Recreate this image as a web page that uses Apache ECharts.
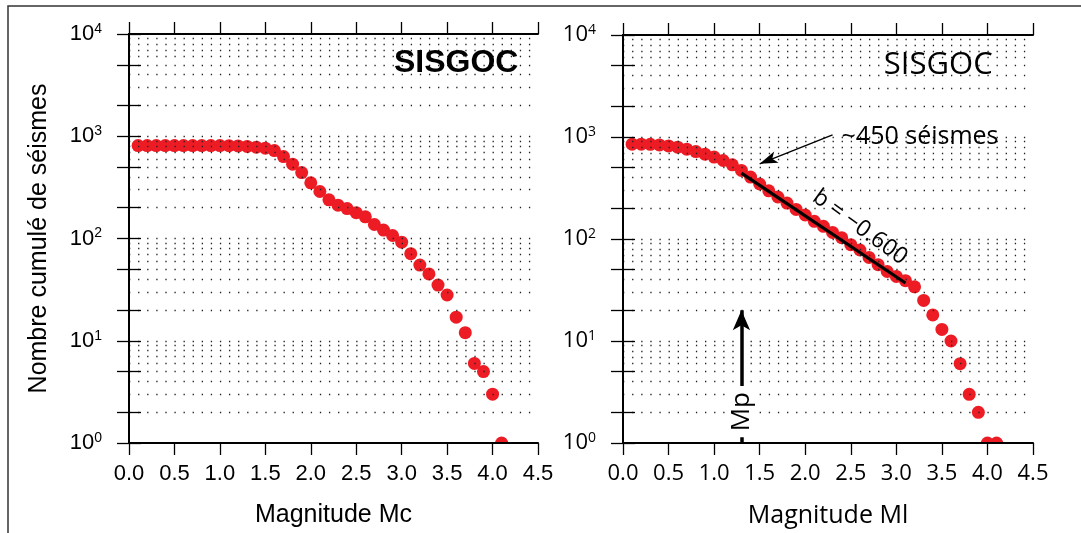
<!DOCTYPE html>
<html><head><meta charset="utf-8">
<script src="https://cdn.jsdelivr.net/npm/echarts@6/dist/echarts.min.js"></script>
<style>html,body{margin:0;padding:0;background:#fff}#c{width:1081px;height:533px}</style>
</head><body><div id="c"></div>
<script>
// ---------- data ----------
const magnitudes = [0.1,0.2,0.3,0.4,0.5,0.6,0.7,0.8,0.9,1.0,1.1,1.2,1.3,1.4,1.5,1.6,1.7,1.8,1.9,2.0,
  2.1,2.2,2.3,2.4,2.5,2.6,2.7,2.8,2.9,3.0,3.1,3.2,3.3,3.4,3.5,3.6,3.7,3.8,3.9,4.0,4.1];
const cumulMc = [810,810,810,810,810,810,810,810,810,810,808,805,795,782,765,724,633,533,441,350,
  288,239,212,196,179,163,137,121,107,92,71,55,45,35,28,17,12,6,5,3,1];
const cumulMl = [850,850,848,837,818,795,760,720,679,635,588,534,470,405,346,297,258,225,195,172,
  149,133,116,103,88,78,66,56,48,43,39,34,25,18,13,10,6,3,2,1,1];
const xTickStep = 0.5;
const xMin = 0, xMax = 4.5;
const yTickValues = [1,2,5,10,20,50,100,200,500,1000,2000,5000,10000];
const yLabelValues = [1,10,100,1000,10000];
const gridRowValues = [2,3,4,5,6,7,8,9,10,20,30,40,50,60,70,80,90,100,200,300,400,500,600,700,800,900,
  1000,2000,3000,4000,5000,6000,7000,8000,9000];
const fitLinePoints = [[1.3,443],[3.1,37]];
const fitLabel = 'b = \u22120.600';
const mpMagnitude = 1.3;
const mpArrowEnd = 20;
const countArrowPoints = [[2.3,1050],[1.5,546]];
const countLabel = '~450 séismes';
const panelLabel = 'SISGOC';
const xTitles = ['Magnitude Mc','Magnitude Ml'];
const yTitle = 'Nombre cumulé de séismes';

// ---------- styles ----------
const FL = '"Liberation Sans", Arial, sans-serif';
const FR = '"Open Sans", sans-serif';
const RED = '#ed1c24';
const grids = [
  {left:129, top:34, width:409, height:409},
  {left:623, top:35, width:410, height:409}
];

function xAxisCfg(gi, pos, font, name) {
  return {
    type:'value', gridIndex:gi, position:pos, min:xMin, max:xMax, interval:xTickStep,
    axisLine:{show:true, onZero:false, lineStyle:{color:'#000', width:2}},
    axisTick:{show:true, inside:false, length:12, lineStyle:{color:'#000', width:1.3}},
    splitLine:{show:false},
    axisLabel:{show: pos==='bottom', margin:20, color:'#000', fontSize:22, fontFamily:font,
      formatter: v => v.toFixed(1)},
    name: name || '', nameLocation:'middle', nameGap:60,
    nameTextStyle:{fontSize:25, fontFamily:font, color:'#000'},
    z:10
  };
}
function yAxisCfg(gi, pos, font, name) {
  return {
    type:'log', logBase:10, gridIndex:gi, position:pos, min:1, max:10000,
    axisLine:{show:true, lineStyle:{color:'#000', width:2}},
    axisTick:{show:true, inside:false, length:12, customValues:yTickValues, lineStyle:{color:'#000', width:1.3}},
    minorTick:{show:false},
    splitLine:{show:false},
    axisLabel:{show: pos==='left', margin:27, customValues:yLabelValues,
      formatter: v => '{b|10}{s|' + Math.round(Math.log10(v)) + '}',
      rich:{
        b:{fontSize:22, fontFamily:font, color:'#000', lineHeight:24},
        s:{fontSize:14, fontFamily:font, color:'#000', verticalAlign:'top', lineHeight:14}
      }},
    name: name || '', nameLocation:'middle', nameGap:77, nameRotate:90,
    nameTextStyle:{fontSize:25, fontFamily:font, color:'#000'},
    z:10
  };
}

function pointSeries(xi, yi, values) {
  return {
    type:'custom', xAxisIndex:xi, yAxisIndex:yi, clip:true, z:2,
    data: magnitudes.map((m,i)=>[m, values[i]]),
    encode:{x:0, y:1},
    renderItem:(params, api) => {
      const p = api.coord([api.value(0), api.value(1)]);
      return {type:'circle', shape:{cx:p[0], cy:p[1], r:6.5}, style:{fill:RED}};
    }
  };
}
function dotRows(xi, yi, gridW) {
  const period = gridW / ((xMax - xMin) * 10);
  return {
    type:'line', xAxisIndex:xi, yAxisIndex:yi, data:[], silent:true,
    markLine:{
      silent:true, symbol:['none','none'], label:{show:false}, animation:false, z:5,
      lineStyle:{color:'#222', width:1.3, type:[1.3, period - 1.3]},
      emphasis:{disabled:true},
      data: gridRowValues.map(v => ({yAxis:v}))
    }
  };
}
function textSeries(xi, yi, pt, text, style) {
  return {
    type:'scatter', xAxisIndex:xi, yAxisIndex:yi, symbolSize:1, silent:true, z:8,
    itemStyle:{color:'rgba(0,0,0,0)'},
    data:[pt],
    label:Object.assign({show:true, position:'inside', formatter:text, color:'#000',
      textBorderWidth:0, textBorderColor:'transparent', opacity:1}, style)
  };
}

const option = {
  animation:false,
  backgroundColor:'#fff',
  grid: grids,
  xAxis:[
    xAxisCfg(0,'bottom',FL,xTitles[0]), xAxisCfg(0,'top',FL),
    xAxisCfg(1,'bottom',FR,xTitles[1]), xAxisCfg(1,'top',FR)
  ],
  yAxis:[
    yAxisCfg(0,'left',FL,yTitle), yAxisCfg(0,'right',FL),
    yAxisCfg(1,'left',FR), yAxisCfg(1,'right',FR)
  ],
  graphic:[{type:'rect', shape:{x:8, y:6, width:1200, height:700}, style:{fill:'none', stroke:'#333', lineWidth:1.5}, silent:true, z:0}],
  series:[
    dotRows(0,0,grids[0].width),
    dotRows(2,2,grids[1].width),
    pointSeries(0,0,cumulMc),
    pointSeries(2,2,cumulMl),
    {type:'line', xAxisIndex:2, yAxisIndex:2, data:fitLinePoints, symbol:'none', z:6,
      lineStyle:{color:'#000', width:3.2}},
    {type:'line', xAxisIndex:2, yAxisIndex:2, data:[], silent:true,
      markLine:{silent:true, animation:false, z:7, label:{show:false},
        data:[
          [{coord:countArrowPoints[0], symbol:'none', lineStyle:{color:'#000', width:1.4, type:'solid'}},
           {coord:countArrowPoints[1], symbol:'arrow', symbolSize:[9,18]}],
          [{coord:[mpMagnitude,1], symbol:'none', lineStyle:{color:'#000', width:3.5, type:'solid'}},
           {coord:[mpMagnitude,mpArrowEnd], symbol:'arrow', symbolSize:[13,20]}]
        ]}},
    textSeries(0,0,[3.6,5230], panelLabel, {fontSize:32, fontWeight:'bold', fontFamily:FL}),
    textSeries(2,2,[3.46,5070], panelLabel, {fontSize:31, fontFamily:FR}),
    textSeries(2,2,[3.26,1000], countLabel, {fontSize:25, fontFamily:FR}),
    textSeries(2,2,[2.6,130], fitLabel, {fontSize:23, fontFamily:FR, rotate:-36}),
    textSeries(2,2,[mpMagnitude,2.03], 'Mp', {fontSize:26, fontFamily:FR, rotate:90, backgroundColor:'#fff', padding:[0,6]})
  ]
};
const chart = echarts.init(document.getElementById('c'), null, {renderer:'canvas'});
chart.setOption(option);
</script></body></html>
